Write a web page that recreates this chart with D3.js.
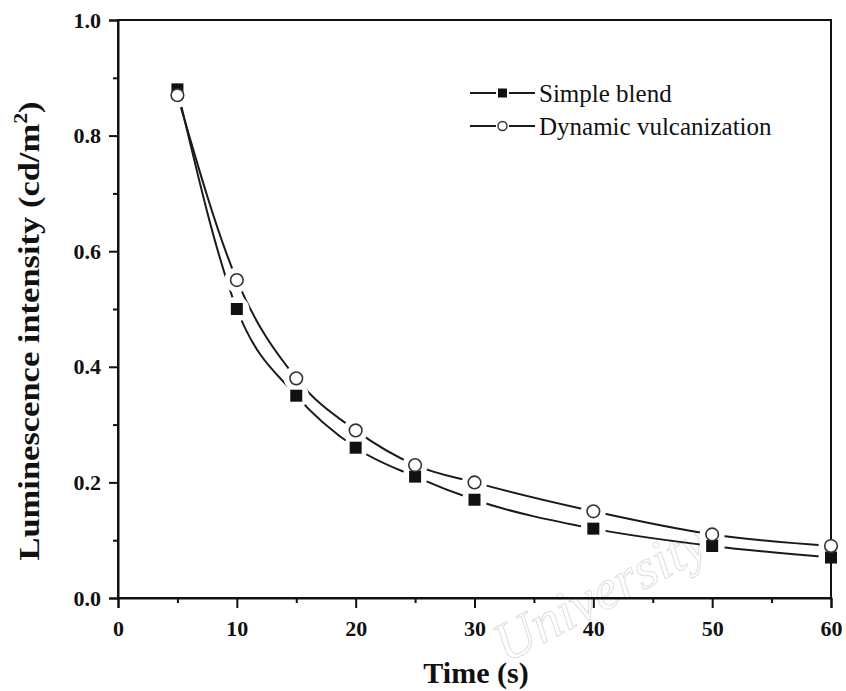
<!DOCTYPE html>
<html>
<head>
<meta charset="utf-8">
<script src="https://cdn.jsdelivr.net/npm/d3@7"></script>
<style>
  html, body { margin: 0; padding: 0; background: #fff; }
  svg { display: block; font-family: "Liberation Serif", "Times New Roman", serif; }
</style>
</head>
<body>
<svg id="chart" width="846" height="691"></svg>
<script>
// data
const times = [5, 10, 15, 20, 25, 30, 40, 50, 60];
const simpleBlend = [0.88, 0.50, 0.35, 0.26, 0.21, 0.17, 0.12, 0.09, 0.07];
const dynamicVulc = [0.87, 0.55, 0.38, 0.29, 0.23, 0.20, 0.15, 0.11, 0.09];
const seriesNames = ['Simple blend', 'Dynamic vulcanization'];
const xTicks = [0, 10, 20, 30, 40, 50, 60];
const yTicks = [0.0, 0.2, 0.4, 0.6, 0.8, 1.0];

const plotL = 118, plotR = 831, plotT = 20, plotB = 598;
const ink = '#111';

const svg = d3.select('#chart');

// scales
const x = d3.scaleLinear().domain([0, 60]).range([plotL, plotR]);
const y = d3.scaleLinear().domain([0, 1]).range([plotB, plotT]);

// watermark
svg.append('text')
  .attr('transform', 'translate(712,554) rotate(-28)')
  .attr('text-anchor', 'end')
  .style('font-size', '56px')
  .style('font-style', 'italic')
  .attr('fill', 'none')
  .attr('stroke', '#dedede')
  .attr('stroke-width', 1)
  .text('University');

// series lines
const series = [
  { name: seriesNames[0], values: simpleBlend, shape: 'square' },
  { name: seriesNames[1], values: dynamicVulc, shape: 'circle' }
];
series.forEach(s => { s.pts = times.map((t, j) => [t, s.values[j]]); });

const line = d3.line()
  .x(d => x(d[0]))
  .y(d => y(d[1]))
  .curve(d3.curveMonotoneX);

svg.selectAll('path.series')
  .data(series)
  .enter()
  .append('path')
  .attr('class', 'series')
  .attr('d', d => line(d.pts))
  .attr('fill', 'none')
  .attr('stroke', '#1a1a1a')
  .attr('stroke-width', 2);

// white halos open a gap in the lines round every marker
const allPts = series[0].pts.concat(series[1].pts);
svg.selectAll('circle.halo')
  .data(allPts)
  .enter()
  .append('circle')
  .attr('class', 'halo')
  .attr('cx', d => x(d[0]))
  .attr('cy', d => y(d[1]))
  .attr('r', 12.5)
  .attr('fill', '#fff');

// frame
svg.append('rect')
  .attr('x', plotL).attr('y', plotT)
  .attr('width', plotR - plotL).attr('height', plotB - plotT)
  .attr('fill', 'none').attr('stroke', ink).attr('stroke-width', 2);

// bottom axis
svg.append('g')
  .attr('transform', `translate(0,${plotB})`)
  .call(d3.axisBottom(x).tickValues(xTicks).tickFormat(d3.format('d')).tickSize(10).tickPadding(12));
svg.append('g')
  .attr('transform', `translate(0,${plotB})`)
  .call(d3.axisBottom(x).tickValues(d3.range(5, 60, 10)).tickFormat('').tickSize(5))
  .call(g => g.select('.domain').remove());

// left axis
svg.append('g')
  .attr('transform', `translate(${plotL},0)`)
  .call(d3.axisLeft(y).tickValues(yTicks).tickFormat(d3.format('.1f')).tickSize(9).tickPadding(8));
svg.append('g')
  .attr('transform', `translate(${plotL},0)`)
  .call(d3.axisLeft(y).tickValues(d3.range(0.1, 1, 0.2)).tickFormat('').tickSize(5))
  .call(g => g.select('.domain').remove());

svg.selectAll('.domain').attr('stroke', ink).attr('stroke-width', 2);
svg.selectAll('.tick line').attr('stroke', ink).attr('stroke-width', 2);
svg.selectAll('.tick text')
  .attr('fill', ink)
  .style('font-family', '"Liberation Serif", serif')
  .style('font-weight', 'bold')
  .style('font-size', '22px');

// axis titles
svg.append('text')
  .attr('x', 476).attr('y', 683)
  .attr('text-anchor', 'middle')
  .style('font-size', '30px').style('font-weight', 'bold')
  .attr('fill', ink)
  .text('Time (s)');

const yTitle = svg.append('text')
  .attr('transform', 'translate(39,331) rotate(-90) scale(1.15,1)')
  .attr('text-anchor', 'middle')
  .style('font-size', '30px').style('font-weight', 'bold')
  .attr('fill', ink);
yTitle.append('tspan').text('Luminescence intensity (cd/m');
yTitle.append('tspan').attr('dy', -12).style('font-size', '19px').text('2');
yTitle.append('tspan').attr('dy', 12).text(')');

// markers
svg.selectAll('rect.sq')
  .data(series[0].pts)
  .enter()
  .append('rect')
  .attr('class', 'sq')
  .attr('x', d => x(d[0]) - 6)
  .attr('y', d => y(d[1]) - 6)
  .attr('width', 12).attr('height', 12)
  .attr('fill', '#111');

svg.selectAll('circle.ci')
  .data(series[1].pts)
  .enter()
  .append('circle')
  .attr('class', 'ci')
  .attr('cx', d => x(d[0]))
  .attr('cy', d => y(d[1]))
  .attr('r', 6.3)
  .attr('fill', '#fff')
  .attr('stroke', '#333')
  .attr('stroke-width', 1.6);

// legend
const legend = svg.append('g');
series.forEach((s, i) => {
  const cy = 93 + i * 33;
  legend.append('line').attr('x1', 470).attr('x2', 496).attr('y1', cy).attr('y2', cy)
    .attr('stroke', '#1a1a1a').attr('stroke-width', 2);
  legend.append('line').attr('x1', 509).attr('x2', 535).attr('y1', cy).attr('y2', cy)
    .attr('stroke', '#1a1a1a').attr('stroke-width', 2);
  if (s.shape === 'square') {
    legend.append('rect').attr('x', 498).attr('y', cy - 4.5).attr('width', 9).attr('height', 9).attr('fill', '#111');
  } else {
    legend.append('circle').attr('cx', 502.5).attr('cy', cy).attr('r', 4.5)
      .attr('fill', '#fff').attr('stroke', '#333').attr('stroke-width', 1.4);
  }
  legend.append('text')
    .attr('x', 539).attr('y', cy + 9)
    .style('font-size', '25px')
    .attr('fill', ink)
    .text(s.name);
});
</script>
</body>
</html>
